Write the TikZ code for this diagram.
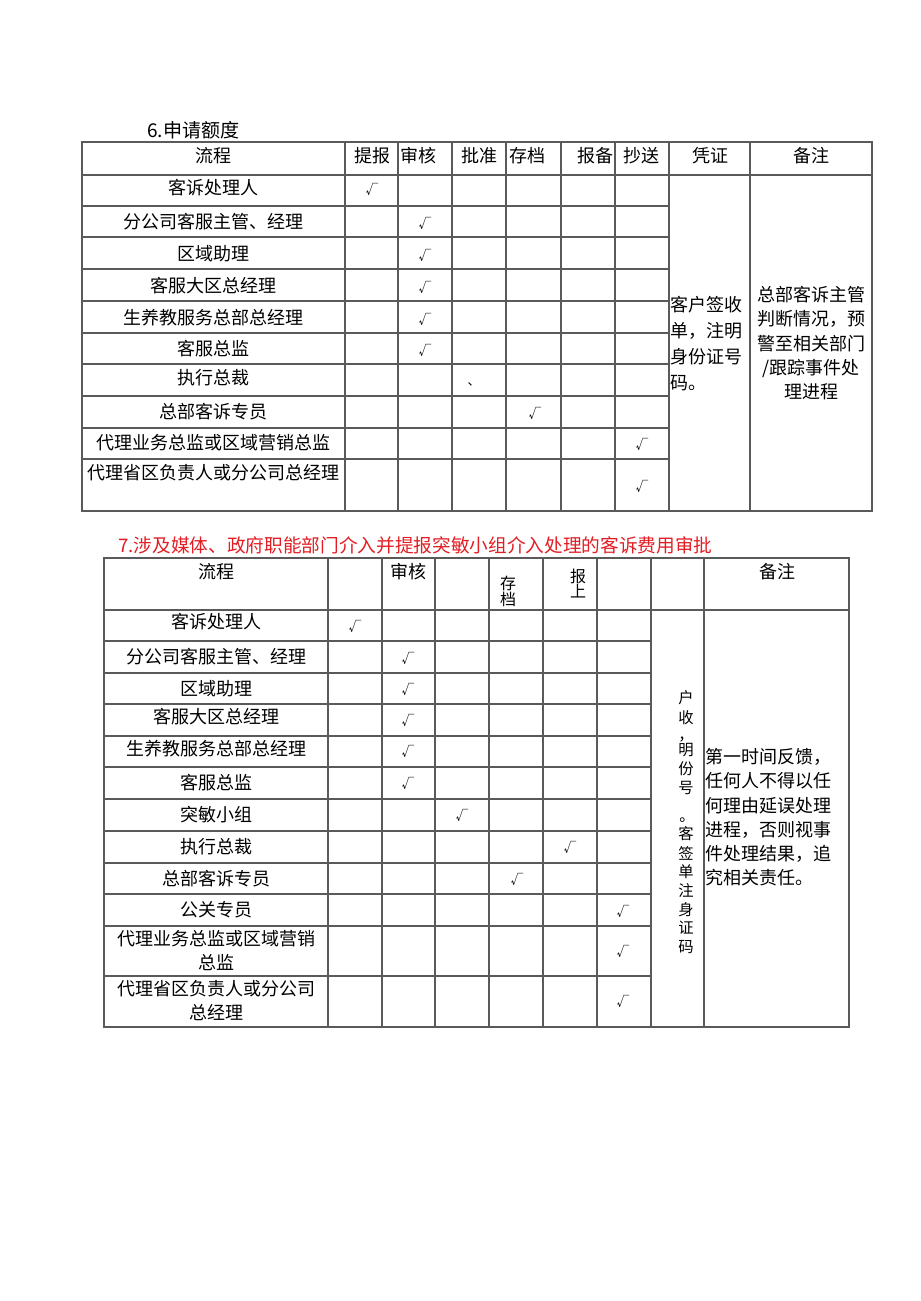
\documentclass[tikz,border=0pt]{standalone}
\usepackage{fontspec}
\setmainfont{Noto Sans CJK SC}
\definecolor{titlered}{RGB}{226,30,36}
\definecolor{gridcol}{RGB}{90,90,90}
\begin{document}
\begin{tikzpicture}[x=0.75pt,y=-0.75pt,
  gridline/.style={draw=gridcol,line width=0.8pt},
  lbl/.style={font=\fontsize{13.5}{18}\selectfont,inner sep=0pt,anchor=center},
  hdr/.style={font=\fontsize{13.5}{18}\selectfont,inner sep=0pt,anchor=center},
  chk/.style={font=\fontsize{9.5}{10}\selectfont,inner sep=0pt,anchor=center},
  hstk/.style={font=\fontsize{12}{14}\selectfont,inner sep=0pt,anchor=center},
  vch/.style={font=\fontsize{11.5}{13}\selectfont,inner sep=0pt,anchor=center},
  vpunct/.style={font=\fontsize{11.5}{13}\selectfont,inner sep=0pt,anchor=base,text height=0pt,text depth=0pt},
  para/.style={font=\fontsize{13.5}{18.2}\selectfont,inner sep=0pt},
  ttl/.style={font=\fontsize{14.3}{16}\selectfont,inner sep=0pt,anchor=west}]
\fill[white] (0,0) rectangle (920,1301);
\useasboundingbox (0,0) rectangle (920,1301);

% ---------------- Table 6 ----------------
\node[ttl] (t1title) at (147,130) {6.申请额度};
\draw[gridline] (82,142) rectangle (872,511);
\draw[gridline] (82,175) -- (872,175);
\foreach \y in {206,237,269,301,333,364,396,428,459}
  \draw[gridline] (82,\y) -- (669,\y);
\foreach \x in {345,398,452,506,561,615,669,750}
  \draw[gridline] (\x,142) -- (\x,511);

\node[hdr] (h1a) at (213,156) {流程};
\node[hdr] (h1b) at (372,156) {提报};
\node[hdr] (h1c) at (418,156) {审核};
\node[hdr] (h1d) at (479,156) {批准};
\node[hdr] (h1e) at (527,156) {存档};
\node[hdr] (h1f) at (595,156) {报备};
\node[hdr] (h1g) at (641,156) {抄送};
\node[hdr] (h1h) at (710,156) {凭证};
\node[hdr] (h1i) at (811,156) {备注};

\node[lbl] (r1a) at (213,188) {客诉处理人};
\node[lbl] (r1b) at (213,222) {分公司客服主管、经理};
\node[lbl] (r1c) at (213,254) {区域助理};
\node[lbl] (r1d) at (213,286) {客服大区总经理};
\node[lbl] (r1e) at (213,318) {生养教服务总部总经理};
\node[lbl] (r1f) at (213,349) {客服总监};
\node[lbl] (r1g) at (213,378) {执行总裁};
\node[lbl] (r1h) at (213,412) {总部客诉专员};
\node[lbl] (r1i) at (213,443) {代理业务总监或区域营销总监};
\node[lbl] (r1j) at (213,473) {代理省区负责人或分公司总经理};

\node[chk] (c1a) at (372,189) {√};
\node[chk] (c1b) at (425,223) {√};
\node[chk] (c1c) at (425,255) {√};
\node[chk] (c1d) at (425,287) {√};
\node[chk] (c1e) at (425,319) {√};
\node[chk] (c1f) at (425,350) {√};
\node[chk] (c1g) at (474,384) {、};
\node[chk] (c1h) at (535,413) {√};
\node[chk] (c1i) at (642,444) {√};
\node[chk] (c1j) at (642,486) {√};

\node[para,anchor=north west,align=left] (v1) at (670,296)
  {客户签收\\[1.3pt]单，注明\\[1.3pt]身份证号\\[1.3pt]码。};
\node[para,anchor=north,align=center] (n1) at (811,286)
  {总部客诉主管\\判断情况，预\\警至相关部门\\/跟踪事件处\\理进程};

% ---------------- Table 7 ----------------
\node[ttl,text=titlered,font=\fontsize{14}{16}\selectfont] (t2title) at (118,545)
  {7.涉及媒体、政府职能部门介入并提报突敏小组介入处理的客诉费用审批};
\draw[gridline] (104,558) rectangle (849,1027);
\draw[gridline] (104,610) -- (849,610);
\foreach \y in {641,673,704,736,767,799,831,863,894,926,976}
  \draw[gridline] (104,\y) -- (651,\y);
\foreach \x in {328,382,435,489,543,597,651,704}
  \draw[gridline] (\x,558) -- (\x,1027);

\node[hdr] (h2a) at (216,572) {流程};
\node[hdr] (h2b) at (408,572) {审核};
\node[hstk] (h2c1) at (508,583) {存};
\node[hstk] (h2c2) at (508,599) {档};
\node[hstk] (h2d1) at (578,576) {报};
\node[hstk] (h2d2) at (578,591) {上};
\node[hdr] (h2e) at (777,572) {备注};

\node[lbl] (r2a) at (216,622) {客诉处理人};
\node[lbl] (r2b) at (216,657) {分公司客服主管、经理};
\node[lbl] (r2c) at (216,689) {区域助理};
\node[lbl] (r2d) at (216,717) {客服大区总经理};
\node[lbl] (r2e) at (216,749) {生养教服务总部总经理};
\node[lbl] (r2f) at (216,783) {客服总监};
\node[lbl] (r2g) at (216,815) {突敏小组};
\node[lbl] (r2h) at (216,847) {执行总裁};
\node[lbl] (r2i) at (216,879) {总部客诉专员};
\node[lbl] (r2j) at (216,910) {公关专员};
\node[lbl,align=center] (r2k) at (216,951) {代理业务总监或区域营销\\总监};
\node[lbl,align=center] (r2l) at (216,1001) {代理省区负责人或分公司\\总经理};

\node[chk] (c2a) at (355,626) {√};
\node[chk] (c2b) at (408,658) {√};
\node[chk] (c2c) at (408,689) {√};
\node[chk] (c2d) at (408,720) {√};
\node[chk] (c2e) at (408,751) {√};
\node[chk] (c2f) at (408,783) {√};
\node[chk] (c2g) at (462,815) {√};
\node[chk] (c2h) at (570,847) {√};
\node[chk] (c2i) at (517,879) {√};
\node[chk] (c2j) at (623,911) {√};
\node[chk] (c2k) at (623,951) {√};
\node[chk] (c2l) at (623,1001) {√};

\foreach \ch/\yy [count=\i] in {户/698,收/718,明/750,份/769,号/788,客/834,签/853,单/872,注/891,身/910,证/928,码/947}
  \node[vch] (vc\i) at (686,\yy) {\ch};
\node[vpunct] (vp1) at (686,740) {，};
\node[vpunct] (vp2) at (687,821) {。};

\node[para,anchor=north west,align=left] (n2) at (705,748)
  {第一时间反馈，\\任何人不得以任\\何理由延误处理\\进程，否则视事\\件处理结果，追\\究相关责任。};
\end{tikzpicture}
\end{document}
